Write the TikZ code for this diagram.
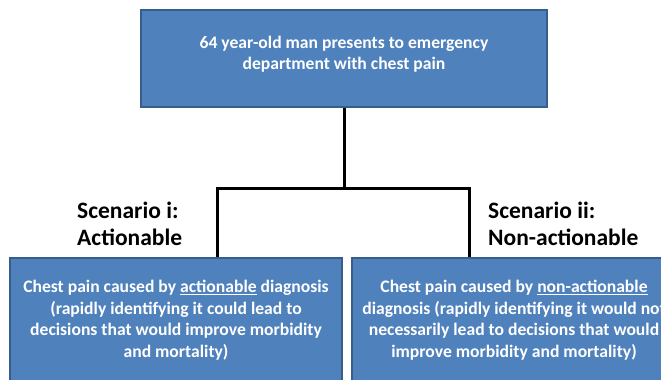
\documentclass[tikz,border=0pt]{standalone}
\usepackage{fontspec}
\setmainfont{Carlito}
\usepackage{tikz}
\definecolor{boxblue}{HTML}{4F81BD}
\definecolor{boxline}{HTML}{385D8A}
\tikzstyle{box} = [draw=boxline, fill=boxblue, line width=1.5pt, text=white, font=\fontsize{17.6}{21.5}\selectfont\bfseries, align=center, inner sep=0pt]
\tikzstyle{link} = [line width=3pt, black]
\tikzstyle{scen} = [font=\fontsize{23.5}{27}\selectfont\bfseries, align=left, anchor=north west, inner sep=0pt]

\begin{document}
\begin{tikzpicture}[x=1pt,y=-1pt]
        \useasboundingbox (0,0) rectangle (661,380);
        \clip (0,0) rectangle (661,380);
        \node[box, minimum width=406pt, minimum height=97pt, text depth=11pt] at (344,58.5) (top) {64 year-old man presents to emergency\\department with chest pain};
        \node[box, minimum width=332pt, minimum height=124pt] at (176,320) (left) {Chest pain caused by \underline{actionable} diagnosis\\(rapidly identifying it could lead to\\decisions that would improve morbidity\\and mortality)};
        \node[box, minimum width=324pt, minimum height=124pt] at (514,320) (right) {Chest pain caused by \underline{non-actionable}\\diagnosis (rapidly identifying it would not\\necessarily lead to decisions that would\\improve morbidity and mortality)};
        \coordinate (split) at (344,188);
        \coordinate (jl) at (217,188);
        \coordinate (jr) at (469,188);

        \draw[link] (top.south) -- (split);
        \draw[link] (jl |- left.north) -- (jl) -- (jr) -- (jr |- right.north);

        \node[scen] at (77,202) (scenl) {Scenario i:\\Actionable};
        \node[scen] at (488,202) (scenr) {Scenario ii:\\Non-actionable};
    \end{tikzpicture}
\end{document}
